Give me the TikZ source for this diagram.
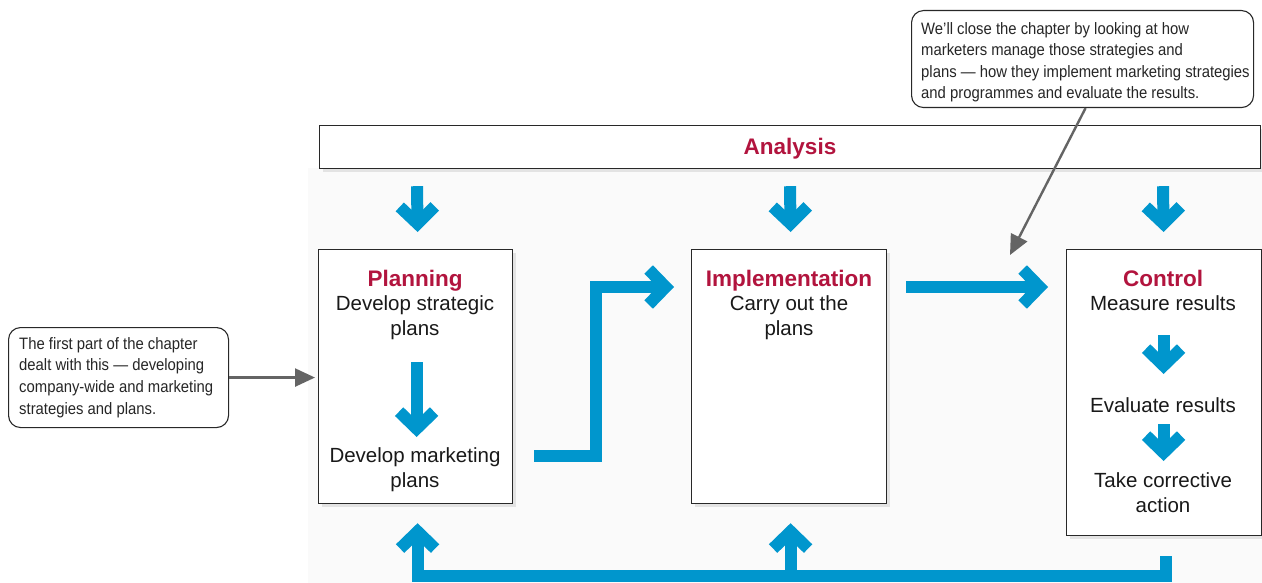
\documentclass[tikz,border=0pt]{standalone}
\usepackage{fontspec}
\setmainfont{Liberation Sans}
\newfontfamily\condfont{Liberation Sans}[FakeStretch=0.9]
\usetikzlibrary{arrows.meta,shadows,calc}
\definecolor{arrblue}{RGB}{0,150,205}
\definecolor{crim}{RGB}{178,20,62}
\definecolor{callgray}{RGB}{100,100,100}
\definecolor{edge}{RGB}{40,40,40}
\begin{document}
\begin{tikzpicture}[x=1pt,y=-1pt,
  box/.style={draw=edge, line width=1.2pt, fill=white, inner sep=0pt,
    drop shadow={shadow xshift=3pt, shadow yshift=-3pt, opacity=0.18}},
  title/.style={font=\fontsize{22.5}{27}\selectfont\bfseries, text=crim, inner sep=0pt, anchor=base},
  body/.style={font=\fontsize{20.5}{25}\selectfont, align=center, inner sep=0pt, anchor=base, text=black!90},
  call/.style={draw=edge, line width=1.1pt, rounded corners=12pt, fill=white, inner sep=0pt},
  calltext/.style={font=\condfont\fontsize{16.5}{21.6}\selectfont, align=left, inner sep=0pt, anchor=base west, text=black!85},
  bluearr/.style={draw=arrblue, line width=12pt, line join=miter, -{Straight Barb[length=17pt,width=35pt]}},
  grayarr/.style={draw=callgray, line width=2.4pt, -{Triangle[length=20pt,width=18pt]}}
]
\useasboundingbox (0,0) rectangle (1262,583);
\fill[black!2] (308,168) rectangle (1262,583);

% analysis bar
\node[box, anchor=north west, minimum width=941pt, minimum height=43pt] (ana) at (319,125) {};
\node[title] (anaT) at (790,155) {Analysis};

% main boxes
\node[box, anchor=north west, minimum width=194pt, minimum height=254pt] (plan) at (318,249) {};
\node[box, anchor=north west, minimum width=195pt, minimum height=254pt] (impl) at (691,249) {};
\node[box, anchor=north west, minimum width=195pt, minimum height=286pt] (ctrl) at (1066,249) {};

\node[title] (planT) at (415,286) {Planning};
\node[body] (planA) at (415,335) {Develop strategic\\plans};
\node[body] (planB) at (415,487) {Develop marketing\\plans};

\node[title] (implT) at (789,286) {Implementation};
\node[body] (implA) at (789,335) {Carry out the\\plans};

\node[title] (ctrlT) at (1163,286) {Control};
\node[body] (ctrlA) at (1163,310) {Measure results};
\node[body] (ctrlB) at (1163,412) {Evaluate results};
\node[body] (ctrlC) at (1163,512) {Take corrective\\action};

% callouts
\node[call, anchor=north west, minimum width=220pt, minimum height=100pt] (callL) at (8,327) {};
\node[calltext] (callLT) at (19,414) {The first part of the chapter\\dealt with this — developing\\company-wide and marketing\\strategies and plans.};
\node[call, anchor=north west, minimum width=342pt, minimum height=97pt] (callR) at (911,10) {};
\node[calltext] (callRT) at (921,99) {We’ll close the chapter by looking at how\\marketers manage those strategies and\\plans — how they implement marketing strategies\\and programmes and evaluate the results.};

% blue arrows from analysis
\draw[bluearr] ($(ana.south west)+(98,17)$) -- ($(plan.north)+(2,-17)$);
\draw[bluearr] ($(ana.south west)+(471,17)$) -- ($(impl.north)+(1.5,-17)$);
\draw[bluearr] ($(ana.south west)+(844,17)$) -- ($(ctrl.north)+(-0.5,-17)$);

% inner arrows
\draw[bluearr] ($(plan.north)+(1,113)$) -- ($(plan.north)+(1,188)$);
\draw[bluearr] ($(ctrl.north)+(-0.5,86)$) -- ($(ctrl.north)+(-0.5,125)$);
\draw[bluearr] ($(ctrl.north)+(-0.5,175)$) -- ($(ctrl.north)+(-0.5,212)$);

% planning -> implementation
\draw[bluearr] ($(plan.south east)+(21,-48)$) -| ($(plan.north east)+(83,38)$) -- ($(impl.north west)+(-17,38)$);
% implementation -> control
\draw[bluearr] ($(impl.north east)+(19,38)$) -- ($(ctrl.north west)+(-18,38)$);

% feedback
\draw[bluearr] ($(ctrl.south)+(1.5,20)$) |- ($(plan.south)+(2,72)$) -- ($(plan.south)+(2,19)$);
\draw[bluearr] ($(impl.south)+(1.5,72)$) -- ($(impl.south)+(1.5,19)$);

% callout arrows
\coordinate (tipR) at (1010,255);
\draw[grayarr] (callL.east) -- ($(plan.west |- callL.east)+(-3,0)$);
\draw[grayarr] ($(callR.south)+(3,0)$) -- (tipR);
\end{tikzpicture}
\end{document}
